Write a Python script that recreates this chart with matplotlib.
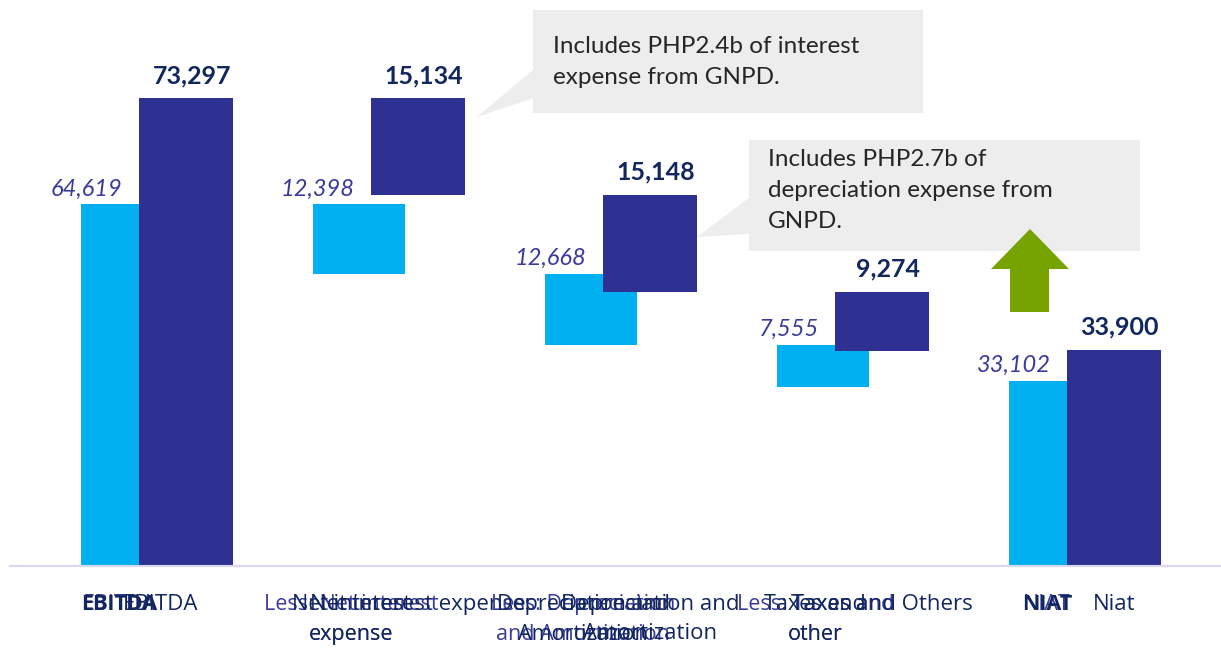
import matplotlib
matplotlib.use("Agg")
import matplotlib.pyplot as plt
from matplotlib.patches import Polygon

# data
labels_prior = ["EBITDA", "Less: Net interest\nexpense", "Less: Depreciation\nand Amortization",
                "Less: Taxes and\nother", "NIAT"]
labels_short = ["EBITDA", "Net interest\nexpense", "Depreciation and\nAmortization",
                "Taxes and\nother", "NIAT"]
labels_current = ["EBITDA", "Net interest expense", "Depreciation and\nAmortization",
                  "Taxes and Others", "Niat"]
prior_vals = [64619, 12398, 12668, 7555, 33102]
current_vals = [73297, 15134, 15148, 9274, 33900]
note_1 = "Includes PHP2.4b of interest\nexpense from GNPD."
note_2 = "Includes PHP2.7b of\ndepreciation expense from\nGNPD."

LIGHT = "#00B0F0"
DARK = "#2E3192"
NAVY = "#13275F"
PURPLE = "#3B3B9E"

W, H = 1221, 649
fig = plt.figure(figsize=(W / 100, H / 100), dpi=100)


def px(x, y):
    return x / W, 1 - y / H


def waterfall(vals):
    bottoms = []
    run = 0
    for i, v in enumerate(vals):
        if i == 0 or i == len(vals) - 1:
            bottoms.append(0)
            run = v
        else:
            run -= v
            bottoms.append(run)
    return bottoms, list(vals)


ax = fig.add_axes([10 / W, 83 / H, 1211 / W, 566 / H])
ax2 = ax.twinx()
ax.set_ylim(0, 101070)
ax2.set_ylim(0, 88715)
ax.set_xlim(-0.631, 4.589)
ax2.set_xlim(-0.631, 4.589)

x = list(range(len(prior_vals)))
xa = [i - 0.127 for i in x]
xb = [i + 0.127 for i in x]

pb, ph = waterfall(prior_vals)
cb, ch = waterfall(current_vals)
ax.bar(xa, ph, bottom=pb, width=0.397, color=LIGHT)
ax2.bar(xb, ch, bottom=cb, width=0.405, color=DARK)

for i in x:
    ax.annotate(f"{prior_vals[i]:,}", (xa[i], pb[i] + ph[i]), xytext=(-3, 6), textcoords="offset points",
                ha="right", va="baseline", fontsize=17, style="italic", color=PURPLE, family="Lato")
    ax2.annotate(f"{current_vals[i]:,}", (xb[i] + 0.025, cb[i] + ch[i]), xytext=(0, 11),
                 textcoords="offset points", ha="center", va="baseline", fontsize=18,
                 fontweight="bold", color=NAVY, family="Lato")

for a in (ax, ax2):
    a.set_yticks([])
    for s in ("top", "right", "left"):
        a.spines[s].set_visible(False)
    a.spines["bottom"].set_color("#D9D9F2")
    a.spines["bottom"].set_linewidth(1.5)
ax.set_xticks([])
ax2.set_xticks([])

# category labels, overlapping as in the source slide
tr = ax.get_xaxis_transform()
shift_c = [-0.108, 0, 0, 0, 0]
for i in x:
    ax.text(i - 0.16, -0.05, labels_prior[i], transform=tr, ha="center", va="top", fontsize=15.5,
            color=PURPLE, family="Open Sans", linespacing=1.55)
    ax.text(i - 0.16, -0.05, labels_short[i], transform=tr, ha="center", va="top", fontsize=15.5,
            color=NAVY, family="Open Sans", linespacing=1.55,
            fontweight="bold" if i in (0, 4) else "normal")
    ax.text(xb[i] + shift_c[i], -0.05, labels_current[i], transform=tr, ha="center", va="top",
            fontsize=16, color=NAVY, family="Open Sans", linespacing=1.5)

# callouts
box1 = [(533, 10), (923, 10), (923, 113), (533, 113), (533, 98), (477, 117), (533, 70)]
box2 = [(749, 140), (1140, 140), (1140, 251), (749, 251), (749, 234), (697, 237), (749, 198)]
for pts in (box1, box2):
    fig.add_artist(Polygon([px(*p) for p in pts], closed=True, transform=fig.transFigure,
                           facecolor="#EDEDED", edgecolor="none"))
fig.text(*px(553, 36), note_1, ha="left", va="top", fontsize=17.5, color="#262626",
         family="Lato", linespacing=1.6)
fig.text(*px(768, 149), note_2, ha="left", va="top", fontsize=17.5, color="#262626",
         family="Lato", linespacing=1.6)

arrow = [(1030, 229), (1069, 269), (1049, 269), (1049, 312), (1010, 312), (1010, 269), (991, 269)]
fig.add_artist(Polygon([px(*p) for p in arrow], closed=True, transform=fig.transFigure,
                       facecolor="#76A300", edgecolor="none"))

fig.savefig("out.png", dpi=100)
